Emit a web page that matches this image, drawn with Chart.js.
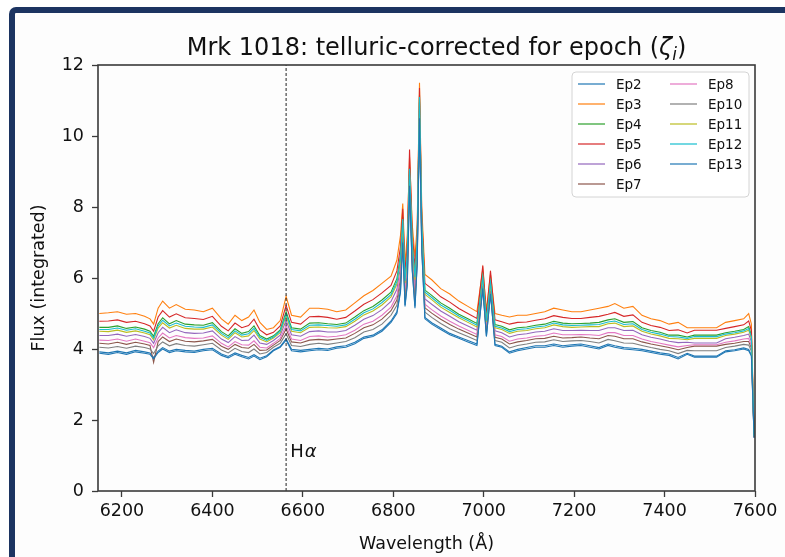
<!DOCTYPE html>
<html>
<head>
<meta charset="utf-8">
<title>Mrk 1018 telluric-corrected spectra</title>
<script src="https://cdn.jsdelivr.net/npm/chart.js@4.4.1/dist/chart.umd.min.js"></script>
<style>
html, body { margin:0; padding:0; background:#fff; overflow:hidden; }
body { width:785px; height:557px; position:relative; }
#frame { position:absolute; left:9px; top:7px; width:1400px; height:900px; border-left:6px solid #1c3461; border-top:6px solid #1c3461; border-top-left-radius:7px; background:#fdfdfd; }
#wrap { position:absolute; left:0; top:0; width:785px; height:557px; }
</style>
</head>
<body>
<div id="frame"></div>
<div id="wrap"><canvas id="myChart" width="785" height="557"></canvas></div>
<script>
// wavelength grid (Angstrom)
var wavelength = [6150,6170,6190,6210,6230,6250,6262,6270,6280,6290,
  6305,6320,6340,6360,6380,6400,6420,6435,6450,6465,
  6480,6492,6505,6520,6535,6550,6563,6575,6595,6615,
  6635,6655,6675,6695,6715,6735,6755,6775,6795,6808,
  6816,6821,6826,6831,6836,6842,6848,6853,6858,6863,
  6870,6885,6905,6925,6945,6965,6985,6998,7006,7015,
  7025,7040,7057,7075,7095,7115,7135,7155,7175,7195,
  7215,7235,7255,7275,7290,7310,7330,7350,7370,7390,
  7410,7430,7450,7466,7515,7535,7555,7575,7586,7592,
  7598];

var ep2 = [3.92,3.89,3.94,3.89,3.96,3.92,3.89,3.76,3.94,4.04,
  3.94,3.99,3.96,3.94,3.99,4.02,3.86,3.79,3.89,3.82,
  3.76,3.84,3.74,3.81,3.97,4.07,4.29,3.99,3.96,3.99,
  4.02,4.00,4.06,4.09,4.19,4.34,4.39,4.54,4.79,5.05,
  5.65,7.04,5.24,5.85,8.63,6.24,5.20,6.44,10.53,6.84,
  4.89,4.74,4.59,4.44,4.34,4.24,4.14,5.72,4.37,5.57,
  4.13,4.08,3.92,3.99,4.04,4.09,4.09,4.14,4.09,4.12,
  4.14,4.09,4.04,4.14,4.09,4.04,4.02,3.99,3.94,3.89,
  3.86,3.76,3.88,3.80,3.80,3.95,3.98,4.03,3.99,3.83,
  1.50];
var ep3 = [5.00,5.02,5.05,4.98,5.00,4.92,4.85,4.70,5.15,5.35,
  5.15,5.25,5.12,5.10,5.05,5.15,4.85,4.70,4.95,4.80,
  4.90,5.10,4.75,4.55,4.60,4.80,5.48,4.95,4.90,5.15,
  5.15,5.12,5.05,5.10,5.30,5.50,5.65,5.85,6.05,6.50,
  7.20,8.10,6.40,7.20,9.40,7.50,6.60,7.50,11.50,8.00,
  6.10,5.95,5.70,5.55,5.35,5.20,5.05,6.25,5.10,6.10,
  5.00,4.95,4.90,4.95,4.95,5.00,5.05,5.15,5.10,5.05,
  5.05,5.10,5.15,5.20,5.28,5.15,5.20,4.95,4.85,4.80,
  4.70,4.75,4.60,4.60,4.60,4.75,4.80,4.85,5.00,4.70,
  1.60];
var ep4 = [4.61,4.61,4.65,4.58,4.62,4.56,4.50,4.36,4.71,4.88,
  4.71,4.80,4.70,4.68,4.67,4.74,4.49,4.37,4.57,4.44,
  4.49,4.65,4.38,4.28,4.37,4.54,5.05,4.60,4.56,4.73,
  4.74,4.71,4.69,4.73,4.90,5.08,5.20,5.38,5.60,5.98,
  6.64,7.72,5.98,6.71,9.12,7.05,6.09,7.12,11.15,7.58,
  5.66,5.51,5.30,5.15,4.98,4.85,4.72,6.08,4.84,5.90,
  4.69,4.64,4.54,4.60,4.62,4.67,4.70,4.78,4.73,4.71,
  4.72,4.73,4.75,4.82,4.85,4.75,4.77,4.60,4.52,4.47,
  4.39,4.39,4.34,4.39,4.39,4.46,4.50,4.55,4.63,4.39,
  1.56];
var ep5 = [4.78,4.79,4.82,4.75,4.78,4.71,4.65,4.50,4.90,5.08,
  4.90,4.99,4.88,4.86,4.83,4.92,4.64,4.51,4.73,4.60,
  4.66,4.84,4.54,4.40,4.47,4.65,5.23,4.75,4.70,4.91,
  4.92,4.89,4.84,4.89,5.07,5.26,5.39,5.58,5.79,6.20,
  6.88,7.95,6.16,6.92,9.62,7.24,6.31,7.28,11.35,7.76,
  5.85,5.70,5.47,5.32,5.14,5.00,4.86,6.35,4.95,6.20,
  4.82,4.77,4.70,4.75,4.76,4.81,4.85,4.94,4.89,4.86,
  4.86,4.89,4.92,4.98,5.03,4.92,4.96,4.75,4.66,4.61,
  4.52,4.54,4.45,4.53,4.53,4.58,4.63,4.68,4.79,4.52,
  1.58];
var ep6 = [4.38,4.38,4.42,4.36,4.41,4.35,4.30,4.16,4.46,4.61,
  4.46,4.54,4.46,4.44,4.45,4.51,4.28,4.18,4.35,4.24,
  4.25,4.39,4.17,4.13,4.24,4.39,4.80,4.40,4.36,4.49,
  4.51,4.48,4.48,4.52,4.67,4.84,4.94,5.11,5.34,5.68,
  6.32,7.50,5.74,6.43,8.96,6.79,5.80,6.90,10.95,7.34,
  5.41,5.26,5.07,4.92,4.77,4.65,4.53,5.95,4.69,5.80,
  4.51,4.46,4.34,4.40,4.43,4.48,4.50,4.57,4.52,4.52,
  4.53,4.52,4.52,4.60,4.60,4.52,4.53,4.40,4.33,4.28,
  4.22,4.18,4.19,4.17,4.17,4.29,4.33,4.38,4.42,4.21,
  1.54];
var ep7 = [4.16,4.14,4.19,4.13,4.19,4.14,4.10,3.62,4.21,4.34,
  4.21,4.28,4.22,4.20,4.23,4.27,4.08,3.99,4.13,4.04,
  4.02,4.13,3.96,3.97,4.11,4.24,4.56,4.20,4.17,4.25,
  4.27,4.25,4.28,4.31,4.44,4.60,4.68,4.84,5.08,5.38,
  6.00,7.28,5.50,6.15,8.80,6.53,5.51,6.68,10.75,7.10,
  5.16,5.01,4.84,4.69,4.56,4.45,4.34,5.84,4.54,5.69,
  4.33,4.28,4.14,4.20,4.24,4.29,4.30,4.36,4.31,4.32,
  4.34,4.31,4.29,4.38,4.36,4.29,4.29,4.20,4.14,4.09,
  4.04,3.98,4.04,4.08,4.08,4.13,4.16,4.21,4.21,4.03,
  1.52];
var ep8 = [4.25,4.24,4.28,4.22,4.28,4.22,4.18,4.04,4.31,4.45,
  4.31,4.38,4.32,4.30,4.31,4.37,4.16,4.06,4.21,4.12,
  4.11,4.23,4.05,4.03,4.16,4.30,4.66,4.28,4.24,4.35,
  4.37,4.34,4.36,4.40,4.53,4.70,4.78,4.95,5.18,5.50,
  6.13,7.36,5.60,6.26,8.86,6.63,5.63,6.76,10.83,7.20,
  5.26,5.11,4.93,4.78,4.65,4.53,4.41,5.88,4.60,5.73,
  4.40,4.35,4.22,4.28,4.31,4.36,4.38,4.45,4.40,4.40,
  4.41,4.40,4.38,4.46,4.46,4.38,4.38,4.28,4.21,4.16,
  4.11,4.06,4.10,4.12,4.12,4.19,4.23,4.28,4.30,4.10,
  1.53];
var ep10 = [4.05,4.03,4.07,4.02,4.08,4.04,4.00,3.87,4.09,4.20,
  4.09,4.15,4.10,4.08,4.12,4.16,3.97,3.89,4.02,3.93,
  3.90,4.00,3.86,3.90,4.05,4.16,4.43,4.10,4.07,4.13,
  4.16,4.13,4.17,4.21,4.32,4.48,4.55,4.70,4.95,5.23,
  5.84,7.17,5.38,6.01,8.72,6.40,5.37,6.57,10.65,6.98,
  5.04,4.89,4.72,4.57,4.46,4.35,4.24,5.78,4.46,5.63,
  4.24,4.19,4.03,4.10,4.14,4.19,4.20,4.26,4.21,4.23,
  4.24,4.21,4.17,4.27,4.23,4.17,4.16,4.10,4.04,3.99,
  3.95,3.87,3.96,3.95,3.95,4.04,4.08,4.13,4.11,3.94,
  1.51];
var ep11 = [4.50,4.49,4.53,4.47,4.51,4.45,4.40,4.26,4.59,4.74,
  4.59,4.67,4.58,4.56,4.56,4.62,4.39,4.27,4.46,4.34,
  4.37,4.52,4.28,4.20,4.31,4.46,4.93,4.50,4.46,4.61,
  4.62,4.60,4.59,4.63,4.78,4.96,5.07,5.24,5.47,5.83,
  6.48,7.61,5.86,6.57,9.04,6.92,5.95,7.01,11.05,7.46,
  5.54,5.39,5.18,5.03,4.88,4.75,4.62,6.00,4.76,5.85,
  4.60,4.55,4.44,4.50,4.52,4.57,4.60,4.68,4.63,4.61,
  4.62,4.63,4.63,4.71,4.73,4.63,4.65,4.50,4.42,4.37,
  4.30,4.29,4.26,4.30,4.30,4.38,4.42,4.47,4.53,4.30,
  1.55];
var ep12 = [4.55,4.55,4.59,4.53,4.57,4.50,4.45,4.31,4.65,4.81,
  4.65,4.73,4.64,4.62,4.61,4.68,4.44,4.32,4.51,4.39,
  4.43,4.58,4.33,4.24,4.34,4.50,4.99,4.55,4.51,4.67,
  4.68,4.66,4.64,4.68,4.84,5.02,5.13,5.31,5.53,5.90,
  6.56,7.66,5.92,6.64,9.08,6.98,6.02,7.06,11.10,7.52,
  5.60,5.45,5.24,5.09,4.93,4.80,4.67,6.03,4.80,5.88,
  4.64,4.59,4.49,4.55,4.57,4.62,4.65,4.73,4.68,4.66,
  4.67,4.68,4.69,4.76,4.79,4.69,4.71,4.55,4.47,4.42,
  4.35,4.34,4.30,4.35,4.35,4.42,4.46,4.51,4.58,4.34,
  1.55];
var ep13 = [3.88,3.85,3.90,3.85,3.92,3.88,3.85,3.72,3.90,4.00,
  3.90,3.95,3.92,3.90,3.95,3.98,3.82,3.75,3.85,3.78,
  3.72,3.80,3.70,3.78,3.95,4.05,4.25,3.95,3.92,3.95,
  3.98,3.96,4.02,4.05,4.15,4.30,4.35,4.50,4.75,5.00,
  5.60,7.00,5.20,5.80,8.60,6.20,5.15,6.40,10.50,6.80,
  4.85,4.70,4.55,4.40,4.30,4.20,4.10,5.70,4.35,5.55,
  4.10,4.05,3.88,3.95,4.00,4.05,4.05,4.10,4.05,4.08,
  4.10,4.05,4.00,4.10,4.05,4.00,3.98,3.95,3.90,3.85,
  3.82,3.72,3.85,3.77,3.77,3.92,3.95,4.00,3.95,3.80,
  1.50];

var seriesNames = ["Ep2","Ep3","Ep4","Ep5","Ep6","Ep7","Ep8","Ep10","Ep11","Ep12","Ep13"];
var seriesColors = ['#1f77b4','#ff7f0e','#2ca02c','#d62728','#9467bd','#8c564b','#e377c2','#7f7f7f','#bcbd22','#17becf','#1f77b4'];
var xTicks = [6200,6400,6600,6800,7000,7200,7400,7600];
var yTicks = [0,2,4,6,8,10,12];
var hAlpha = 6563;          // rest-frame H-alpha marker
var hAlphaLabel = [6572, 0.97];

var allSeries = [ep2, ep3, ep4, ep5, ep6, ep7, ep8, ep10, ep11, ep12, ep13];
var textColor = '#111';
var spineColor = '#3a3a3a';
var FONT = "'DejaVu Sans', sans-serif";
Chart.defaults.font.family = FONT;

var datasets = [];
for (var i = 0; i < allSeries.length; i++) {
  var ys = allSeries[i];
  datasets.push({
    label: seriesNames[i],
    data: wavelength.map(function (w, k) { return {x: w, y: ys[k]}; }),
    borderColor: seriesColors[i],
    borderWidth: 1.1,
    pointRadius: 0,
    fill: false,
    tension: 0,
    order: allSeries.length - i   // later epochs on top, like matplotlib
  });
}
datasets.push({
  label: 'Halpha',
  data: [{x: hAlpha, y: yTicks[0]}, {x: hAlpha, y: yTicks[yTicks.length - 1]}],
  borderColor: '#222',
  borderWidth: 1,
  borderDash: [3, 2],
  pointRadius: 0,
  order: -1
});

// box around the axes (matplotlib spines)
var spines = {
  id: 'spines',
  afterDraw: function (chart) {
    var a = chart.chartArea, ctx = chart.ctx;
    ctx.save();
    ctx.strokeStyle = spineColor;
    ctx.lineWidth = 1.6;
    ctx.strokeRect(a.left, a.top, a.right - a.left, a.bottom - a.top);
    ctx.restore();
  }
};

// title with italic zeta and subscript i
var mathTitle = {
  id: 'mathTitle',
  afterDraw: function (chart) {
    var a = chart.chartArea, ctx = chart.ctx;
    var parts = [
      {t: 'Mrk 1018: telluric-corrected for epoch (', f: '24px ' + FONT, dy: 0},
      {t: 'ζ', f: 'italic 24px ' + FONT, dy: 0},
      {t: 'i', f: 'italic 17px ' + FONT, dy: 5},
      {t: ')', f: '24px ' + FONT, dy: 0}
    ];
    ctx.save();
    var total = 0;
    parts.forEach(function (p) { ctx.font = p.f; p.w = ctx.measureText(p.t).width; total += p.w; });
    var x = (a.left + a.right) / 2 + 10 - total / 2;
    var base = a.top - 10;
    ctx.fillStyle = textColor;
    ctx.textBaseline = 'alphabetic';
    parts.forEach(function (p) { ctx.font = p.f; ctx.fillText(p.t, x, base + p.dy); x += p.w; });
    ctx.restore();
  }
};

// H-alpha annotation
var lineLabel = {
  id: 'lineLabel',
  afterDraw: function (chart) {
    var ctx = chart.ctx;
    var x = chart.scales.x.getPixelForValue(hAlphaLabel[0]);
    var y = chart.scales.y.getPixelForValue(hAlphaLabel[1]);
    ctx.save();
    ctx.fillStyle = textColor;
    ctx.textBaseline = 'alphabetic';
    ctx.font = '18px ' + FONT;
    ctx.fillText('H', x, y);
    var w = ctx.measureText('H').width;
    ctx.font = 'italic 18px ' + FONT;
    ctx.fillText('α', x + w + 1, y);
    ctx.restore();
  }
};

// two-column legend in the upper right corner
var boxLegend = {
  id: 'boxLegend',
  afterDraw: function (chart) {
    var a = chart.chartArea, ctx = chart.ctx;
    var rows = 6, rowH = 20;
    var right = a.right - 6, top = a.top + 7;
    var left = right - 177, bottom = top + 125;
    ctx.save();
    ctx.beginPath();
    ctx.roundRect(left, top, right - left, bottom - top, 4);
    ctx.fillStyle = 'rgba(255,255,255,0.85)';
    ctx.fill();
    ctx.strokeStyle = '#d4d4d4';
    ctx.lineWidth = 1;
    ctx.stroke();
    ctx.font = '13.5px ' + FONT;
    ctx.textBaseline = 'middle';
    for (var i = 0; i < seriesNames.length; i++) {
      var col = Math.floor(i / rows), row = i % rows;
      var lx = left + 6 + col * 92;
      var ly = top + 12 + row * rowH;
      ctx.strokeStyle = seriesColors[i];
      ctx.globalAlpha = 0.8;
      ctx.lineWidth = 1.5;
      ctx.beginPath();
      ctx.moveTo(lx, ly);
      ctx.lineTo(lx + 27, ly);
      ctx.stroke();
      ctx.globalAlpha = 1;
      ctx.fillStyle = textColor;
      ctx.fillText(seriesNames[i], lx + 38, ly + 1);
    }
    ctx.restore();
  }
};

var ctx = document.getElementById('myChart');
var myChart = new Chart(ctx, {
  type: 'line',
  data: { datasets: datasets },
  plugins: [spines, mathTitle, lineLabel, boxLegend],
  options: {
    responsive: false,
    animation: false,
    layout: { padding: { left: 0, right: 30, top: 65, bottom: 0 } },
    plugins: {
      legend: { display: false },
      tooltip: { enabled: false },
      title: { display: false }
    },
    scales: {
      x: {
        type: 'linear',
        min: 6147,
        max: 7600,
        afterBuildTicks: function (s) { s.ticks = xTicks.map(function (v) { return {value: v}; }); },
        afterFit: function (s) { s.height = 66; },
        border: { display: false },
        grid: { drawOnChartArea: false, drawTicks: true, tickLength: 6, tickColor: spineColor, tickWidth: 1.3 },
        ticks: { color: textColor, font: { size: 17.5 }, padding: 4, maxRotation: 0, autoSkip: false,
                 callback: function (v) { return String(v); } },
        title: { display: true, text: 'Wavelength (Å)', color: textColor, font: { size: 17.5 }, padding: { top: 0, bottom: 2 } }
      },
      y: {
        min: 0,
        max: 12,
        afterBuildTicks: function (s) { s.ticks = yTicks.map(function (v) { return {value: v}; }); },
        afterFit: function (s) { s.width = 98; },
        border: { display: false },
        grid: { drawOnChartArea: false, drawTicks: true, tickLength: 6, tickColor: spineColor, tickWidth: 1.3 },
        ticks: { color: textColor, font: { size: 17.5 }, padding: 8, callback: function (v) { return String(v); } },
        title: { display: true, text: 'Flux (integrated)', color: textColor, font: { size: 17.5 }, padding: { top: 29, bottom: 0 } }
      }
    }
  }
});
</script>
</body>
</html>
